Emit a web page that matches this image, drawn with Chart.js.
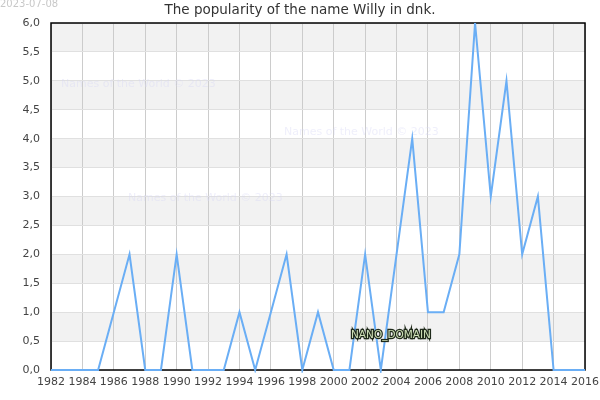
<!DOCTYPE html>
<html>
<head>
<meta charset="utf-8">
<script src="https://cdn.jsdelivr.net/npm/chart.js@4"></script>
<style>
  html, body { margin: 0; padding: 0; background: #fff; }
  #wrap { width: 600px; height: 400px; }
</style>
</head>
<body>
<div id="wrap"><canvas id="chart" width="600" height="400"></canvas></div>
<script>
// years and counts
const years = [1982, 1983, 1984, 1985, 1986, 1987, 1988, 1989, 1990, 1991, 1992, 1993, 1994, 1995, 1996, 1997, 1998, 1999,
               2000, 2001, 2002, 2003, 2004, 2005, 2006, 2007, 2008, 2009, 2010, 2011, 2012, 2013, 2014, 2015, 2016];
const counts = [0, 0, 0, 0, 1, 2, 0, 0, 2, 0, 0, 0, 1, 0, 1, 2, 0, 1,
                0, 0, 2, 0, 2, 4, 1, 1, 2, 6, 3, 5, 2, 3, 0, 0, 0];
const titleText = 'The popularity of the name Willy in dnk.';
const dateText = '2023-07-08';
const watermark = 'Names of the World © 2023';

const points = years.map((y, i) => ({ x: y, y: counts[i] }));

// grey bands, watermarks, frame and header text
const decor = {
    id: 'decor',
    beforeDraw(chart) {
        const { ctx, chartArea: a, scales } = chart;
        ctx.save();
        ctx.fillStyle = '#f2f2f2';
        for (let v = 0.5; v < 6; v += 1) {
            const top = scales.y.getPixelForValue(v + 0.5);
            const bot = scales.y.getPixelForValue(v);
            ctx.fillRect(a.left, top, a.right - a.left, bot - top);
        }
        ctx.restore();
    },
    beforeDatasetsDraw(chart) {
        const { ctx, chartArea: a } = chart;
        ctx.save();
        ctx.font = '11px "DejaVu Sans"';
        ctx.fillStyle = 'rgba(215, 215, 245, 0.4)';
        ctx.textBaseline = 'middle';
        ctx.fillText(watermark, 61, 84);
        ctx.fillText(watermark, 284, 132);
        ctx.fillText(watermark, 128, 198);

        ctx.strokeStyle = '#000';
        ctx.lineWidth = 1.5;
        ctx.strokeRect(a.left, a.top, a.right - a.left, a.bottom - a.top);
        ctx.restore();
    },
    afterDraw(chart) {
        const { ctx } = chart;
        ctx.save();
        ctx.font = '13.5px "DejaVu Sans"';
        ctx.fillStyle = '#333';
        ctx.textAlign = 'center';
        ctx.textBaseline = 'middle';
        ctx.fillText(titleText, 300, 10);

        ctx.font = '10px "DejaVu Sans"';
        ctx.fillStyle = '#c8c8c8';
        ctx.textAlign = 'left';
        ctx.fillText(dateText, 0, 4);

        ctx.font = '10.5px "DejaVu Sans"';
        ctx.lineWidth = 2.5;
        ctx.strokeStyle = '#1f2a1a';
        ctx.strokeText('NANO_DOMAIN', 351, 335);
        ctx.fillStyle = '#cfe0b8';
        ctx.fillText('NANO_DOMAIN', 351, 335);
        ctx.restore();
    }
};

new Chart(document.getElementById('chart'), {
    type: 'line',
    data: {
        datasets: [{
            data: points,
            borderColor: '#6aaef5',
            borderWidth: 2,
            pointRadius: 0,
            fill: false,
            tension: 0,
            clip: 3
        }]
    },
    options: {
        responsive: false,
        animation: false,
        layout: { padding: { top: 23, right: 15, left: 0, bottom: 0 } },
        plugins: {
            legend: { display: false },
            title: { display: false },
            tooltip: { enabled: false }
        },
        scales: {
            x: {
                type: 'linear',
                min: 1982,
                max: 2016,
                grid: { color: '#cccccc', lineWidth: 1, drawTicks: false },
                border: { display: false },
                ticks: {
                    stepSize: 2,
                    padding: 6,
                    color: '#444',
                    font: { family: 'DejaVu Sans', size: 11 },
                    maxRotation: 0,
                    autoSkip: false,
                    callback: v => String(v)
                },
                afterFit(scale) {
                    scale.height = 30;
                    scale.paddingRight = 0;
                    scale.paddingLeft = 0;
                }
            },
            y: {
                min: 0,
                max: 6,
                grid: { color: '#e0e0e0', lineWidth: 1, drawTicks: false },
                border: { display: false },
                ticks: {
                    stepSize: 0.5,
                    padding: 11,
                    color: '#444',
                    font: { family: 'DejaVu Sans', size: 11 },
                    callback: v => v.toFixed(1).replace('.', ',')
                },
                afterFit(scale) {
                    scale.width = 51;
                    scale.paddingTop = 0;
                }
            }
        }
    },
    plugins: [decor]
});
</script>
</body>
</html>
